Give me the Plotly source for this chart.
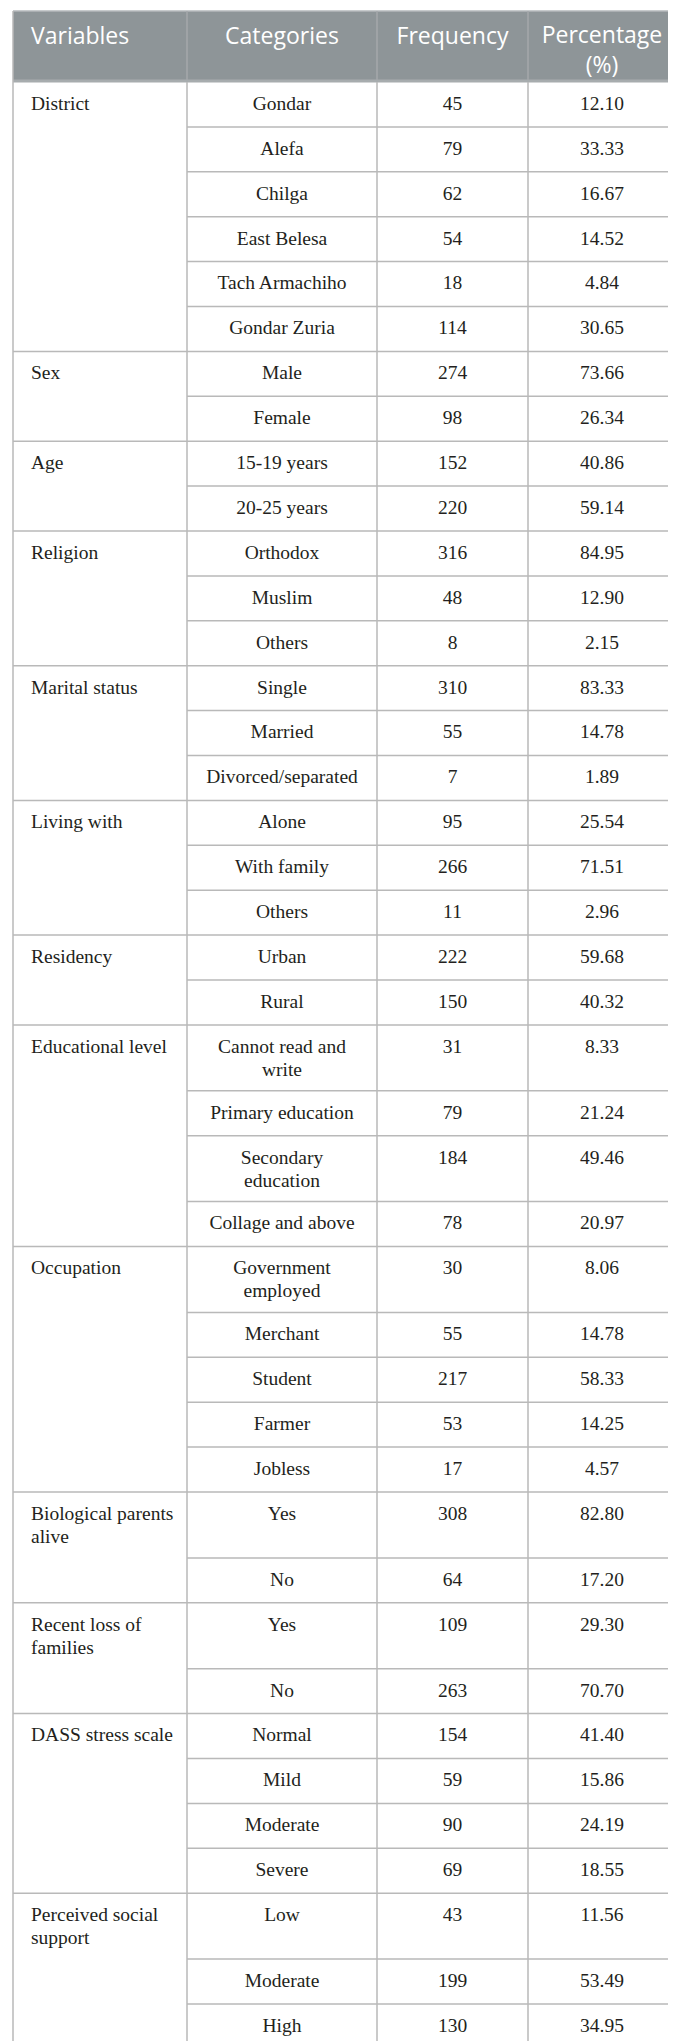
import plotly.graph_objects as go

# Table content
header = ["Variables", "Categories", "Frequency", "Percentage<br>(%)"]

variables = ["District", "Sex", "Age", "Religion", "Marital status", "Living with",
             "Residency", "Educational level", "Occupation",
             "Biological parents<br>alive", "Recent loss of<br>families",
             "DASS stress scale", "Perceived social<br>support"]

categories = [
    ["Gondar", "Alefa", "Chilga", "East Belesa", "Tach Armachiho", "Gondar Zuria"],
    ["Male", "Female"],
    ["15-19 years", "20-25 years"],
    ["Orthodox", "Muslim", "Others"],
    ["Single", "Married", "Divorced/separated"],
    ["Alone", "With family", "Others"],
    ["Urban", "Rural"],
    ["Cannot read and<br>write", "Primary education", "Secondary<br>education", "Collage and above"],
    ["Government<br>employed", "Merchant", "Student", "Farmer", "Jobless"],
    ["Yes", "No"],
    ["Yes", "No"],
    ["Normal", "Mild", "Moderate", "Severe"],
    ["Low", "Moderate", "High"],
]

frequency = [
    [45, 79, 62, 54, 18, 114],
    [274, 98],
    [152, 220],
    [316, 48, 8],
    [310, 55, 7],
    [95, 266, 11],
    [222, 150],
    [31, 79, 184, 78],
    [30, 55, 217, 53, 17],
    [308, 64],
    [109, 263],
    [154, 59, 90, 69],
    [43, 199, 130],
]

percentage = [
    ["12.10", "33.33", "16.67", "14.52", "4.84", "30.65"],
    ["73.66", "26.34"],
    ["40.86", "59.14"],
    ["84.95", "12.90", "2.15"],
    ["83.33", "14.78", "1.89"],
    ["25.54", "71.51", "2.96"],
    ["59.68", "40.32"],
    ["8.33", "21.24", "49.46", "20.97"],
    ["8.06", "14.78", "58.33", "14.25", "4.57"],
    ["82.80", "17.20"],
    ["29.30", "70.70"],
    ["41.40", "15.86", "24.19", "18.55"],
    ["11.56", "53.49", "34.95"],
]

# Layout / style
W, H = 676, 2041
col_edges = [5, 179, 369, 520, 668]
table_top, header_bottom = 3, 74
row_h, row_extra, line_step = 44.9, 21.0, 23.0
first_line = 23.0
header_fill = "#8e9598"
grid = "#b9b9b9"
body_font = "Liberation Serif"
head_font = "Open Sans"
ink = "#231f20"

# compute row layout from the text
rows = []  # (top, bottom, group index, row index in group)
y = header_bottom
group_bounds = []
for g, cats in enumerate(categories):
    g_top = y
    for i, c in enumerate(cats):
        n = len(c.split("<br>"))
        if i == 0:
            n = max(n, len(variables[g].split("<br>")))
        h = row_h + row_extra * (n - 1)
        rows.append((y, y + h, g, i))
        y += h
    group_bounds.append((g_top, y))
table_bottom = y

centers = [(col_edges[k] + col_edges[k + 1]) / 2 for k in range(4)]

tx = {k: [] for k in range(4)}
ty = {k: [] for k in range(4)}
tt = {k: [] for k in range(4)}


def put(k, x, top, label):
    for j, part in enumerate(str(label).split("<br>")):
        tx[k].append(x)
        ty[k].append(top + first_line + line_step * j)
        tt[k].append(part)


for top, bot, g, i in rows:
    if i == 0:
        put(0, col_edges[0] + 18, top, variables[g])
    put(1, centers[1], top, categories[g][i])
    put(2, centers[2], top, frequency[g][i])
    put(3, centers[3], top, percentage[g][i])

fig = go.Figure()
for k in range(4):
    fig.add_trace(go.Scatter(
        x=tx[k], y=ty[k], text=tt[k], mode="text",
        textposition="middle right" if k == 0 else "middle center",
        textfont=dict(family=body_font, size=19.5, color=ink),
        hoverinfo="skip", showlegend=False, cliponaxis=False,
    ))

# header text (multi-line labels kept as one text element)
hx, hy, hp = [], [], []
for k, label in enumerate(header):
    n = len(label.split("<br>"))
    hx.append(col_edges[0] + 18 if k == 0 else centers[k])
    hy.append(30 + 14 * (n - 1))
    hp.append("middle right" if k == 0 else "middle center")
fig.add_trace(go.Scatter(
    x=hx, y=hy, text=header, mode="text", textposition=hp,
    textfont=dict(family=head_font, size=23, color="white"),
    hoverinfo="skip", showlegend=False, cliponaxis=False,
))

shapes = []
# header background
shapes.append(dict(type="rect", x0=col_edges[0], x1=col_edges[-1], y0=table_top, y1=header_bottom,
                   fillcolor=header_fill, line=dict(width=0), layer="below"))
shapes.append(dict(type="line", x0=col_edges[0], x1=col_edges[-1], y0=table_top, y1=table_top,
                   line=dict(color="#b4b9bb", width=1.5)))
shapes.append(dict(type="line", x0=col_edges[0], x1=col_edges[-1], y0=header_bottom - 1, y1=header_bottom - 1,
                   line=dict(color="#a7acae", width=3)))
# header separators
for xe in col_edges[1:-1]:
    shapes.append(dict(type="line", x0=xe, x1=xe, y0=table_top, y1=header_bottom - 2,
                       line=dict(color="#a4a9ab", width=1.5)))
# body verticals
for xe in col_edges:
    shapes.append(dict(type="line", x0=xe, x1=xe, y0=header_bottom if xe in col_edges[1:-1] else table_top,
                       y1=table_bottom, line=dict(color=grid, width=1.5)))
# row lines inside groups
for top, bot, g, i in rows:
    if i < len(categories[g]) - 1:
        shapes.append(dict(type="line", x0=col_edges[1], x1=col_edges[-1], y0=bot, y1=bot,
                           line=dict(color=grid, width=1.5)))
# group lines
for g_top, g_bot in group_bounds:
    shapes.append(dict(type="line", x0=col_edges[0], x1=col_edges[-1], y0=g_bot, y1=g_bot,
                       line=dict(color=grid, width=1.5)))

fig.update_layout(
    width=W, height=H,
    margin=dict(l=0, r=0, t=0, b=0),
    paper_bgcolor="white", plot_bgcolor="white",
    xaxis=dict(range=[0, W], visible=False, fixedrange=True),
    yaxis=dict(range=[H, 0], visible=False, fixedrange=True),
    shapes=shapes,
)

fig.write_html("out.html")
